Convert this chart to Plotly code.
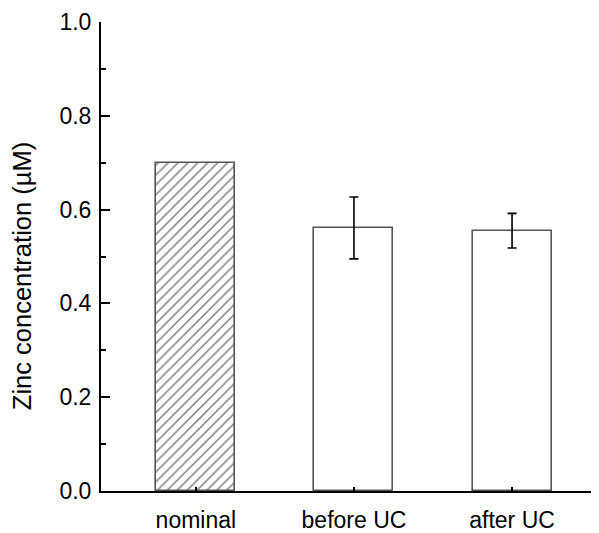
import plotly.graph_objects as go

categories = ["nominal", "before UC", "after UC"]
values = [0.70, 0.561, 0.555]
errors = [0.0, 0.066, 0.037]
hatches = ["/", "", ""]
y_ticks = [0.0, 0.2, 0.4, 0.6, 0.8, 1.0]
y_title = "Zinc concentration (µM)"

FONT = "Liberation Sans, Arial, sans-serif"

# the page body has an 8px margin, so the figure is offset by 8px
W, H = 591, 525
L, T, B = 93, 14, 42
DOMAIN_W = W - L

fig = go.Figure()
fig.add_trace(go.Bar(
    x=categories,
    y=values,
    width=0.5,
    marker=dict(
        color="white",
        line=dict(color="#555555", width=1.6),
        pattern=dict(shape=hatches, fgcolor="black", bgcolor="white", size=7, solidity=0.22),
    ),
    showlegend=False,
))

# error bars only where an error is given
err_idx = [i for i, e in enumerate(errors) if e > 0]
fig.add_trace(go.Scatter(
    x=[categories[i] for i in err_idx],
    y=[values[i] for i in err_idx],
    mode="markers",
    marker=dict(size=1, opacity=0),
    error_y=dict(type="data", array=[errors[i] for i in err_idx], visible=True,
                 color="black", thickness=1.6, width=4.5),
    showlegend=False,
    hoverinfo="skip",
))

fig.add_annotation(
    text=y_title, textangle=-90,
    xref="paper", yref="y", x=(14 - L) / DOMAIN_W, y=0.458,
    xanchor="center", yanchor="middle", showarrow=False,
    font=dict(family=FONT, size=25.5, color="black"),
)

fig.update_layout(
    width=W, height=H,
    margin=dict(l=L, r=0, t=T, b=B, pad=0),
    plot_bgcolor="white", paper_bgcolor="white",
    font=dict(family=FONT, size=23, color="black"),
    bargap=0,
)
fig.update_xaxes(
    range=[-0.6, 2.55], showline=True, linecolor="black", linewidth=2,
    ticks="inside", ticklen=4, tickwidth=1.5, tickcolor="black",
    showgrid=False, zeroline=False, ticklabelstandoff=7,
)
fig.update_yaxes(
    range=[0, 1.0], showline=True, linecolor="black", linewidth=2,
    tickvals=y_ticks, ticktext=[f"{v:.1f}" for v in y_ticks],
    ticks="inside", ticklen=9, tickwidth=1.6, tickcolor="black",
    minor=dict(dtick=0.1, ticks="inside", ticklen=5, tickwidth=1.6, tickcolor="black", showgrid=False),
    showgrid=False, zeroline=False, ticklabelstandoff=3,
)

fig.write_html("out.html")
